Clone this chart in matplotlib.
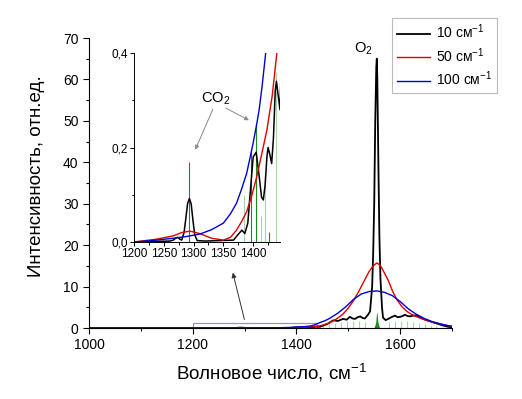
import matplotlib
matplotlib.use("Agg")
import matplotlib.pyplot as plt
from matplotlib.ticker import MultipleLocator, FuncFormatter
from matplotlib.patches import Rectangle

plt.rcParams['font.family'] = ['Liberation Sans', 'DejaVu Sans']
plt.rcParams['mathtext.fontset'] = 'custom'
plt.rcParams['mathtext.rm'] = 'Liberation Sans'
plt.rcParams['mathtext.it'] = 'Liberation Sans:italic'
plt.rcParams['mathtext.default'] = 'regular'

# ---------------- data ----------------
legend_labels = ["10 см$^{-1}$", "50 см$^{-1}$", "100 см$^{-1}$"]

x_10 = [1000, 1100, 1200, 1260, 1266, 1270, 1273, 1277, 1280, 1284, 1287, 1290, 1293, 1296,
        1299, 1302, 1306, 1320, 1367, 1374, 1381, 1386, 1391, 1396, 1400, 1405, 1410, 1414,
        1417, 1420, 1423, 1425, 1428, 1431, 1434, 1437, 1439, 1442, 1445, 1452, 1460, 1465,
        1471, 1480, 1490, 1497, 1503, 1508, 1513, 1518, 1523, 1528, 1532, 1538, 1542, 1546,
        1548, 1550, 1552, 1554, 1555, 1556, 1558, 1560, 1562, 1565, 1567, 1572, 1577, 1583,
        1590, 1595, 1600, 1605, 1609, 1614, 1619, 1625, 1632, 1638, 1644, 1653, 1663, 1673,
        1683, 1692, 1700]
y_10 = [0.0, 0.0, 0.0, 0.002, 0.004, 0.008, 0.010, 0.006, 0.004, 0.020, 0.050, 0.082, 0.092, 0.080,
        0.045, 0.015, 0.003, 0.002, 0.004, 0.015, 0.025, 0.018, 0.040, 0.120, 0.180, 0.190, 0.140, 0.095,
        0.089, 0.120, 0.180, 0.200, 0.185, 0.166, 0.220, 0.320, 0.340, 0.310, 0.28, 0.6, 1.0, 1.4,
        1.85, 1.7, 2.2, 2.0, 2.7, 2.3, 2.2, 2.6, 2.8, 2.4, 2.3, 3.2, 4.0, 10.0,
        18.0, 30.0, 50.0, 63.0, 65.0, 60.0, 40.0, 22.0, 12.0, 5.0, 2.5, 1.9, 2.2, 2.6,
        3.0, 2.6, 2.7, 2.9, 3.2, 2.9, 2.8, 3.0, 3.0, 2.6, 2.2, 1.8, 1.4, 1.0,
        0.6, 0.3, 0.15]

x_50 = [1000, 1100, 1200, 1238, 1266, 1280, 1294, 1310, 1330, 1350, 1362, 1372, 1380, 1389,
        1398, 1406, 1415, 1423, 1432, 1440, 1448, 1455, 1465, 1475, 1483, 1490, 1500, 1510,
        1520, 1530, 1540, 1548, 1555, 1562, 1570, 1577, 1585, 1593, 1603, 1613, 1622, 1632,
        1645, 1660, 1677, 1690, 1700]
y_50 = [0.0, 0.0, 0.0, 0.006, 0.013, 0.020, 0.023, 0.018, 0.008, 0.004, 0.010, 0.025, 0.042, 0.064,
        0.100, 0.138, 0.190, 0.237, 0.310, 0.403, 0.6, 0.85, 1.3, 2.0, 2.7, 3.4, 4.8, 6.6,
        8.8, 11.2, 13.6, 15.0, 15.7, 15.1, 13.2, 11.5, 9.0, 7.0, 5.2, 4.0, 3.3, 2.7,
        2.1, 1.5, 1.0, 0.6, 0.4]

x_100 = [1000, 1100, 1200, 1238, 1266, 1290, 1311, 1330, 1350, 1362, 1372, 1380, 1389, 1395,
         1400, 1406, 1410, 1415, 1421, 1428, 1435, 1445, 1455, 1465, 1480, 1495, 1510, 1525,
         1540, 1555, 1570, 1585, 1600, 1615, 1630, 1645, 1660, 1680, 1700]
y_100 = [0.0, 0.0, 0.0, 0.004, 0.008, 0.012, 0.017, 0.026, 0.040, 0.060, 0.082, 0.110, 0.145, 0.180,
         0.210, 0.250, 0.280, 0.330, 0.400, 0.50, 0.75, 1.3, 1.75, 2.4, 3.6, 5.1, 6.9, 8.2,
         8.8, 8.95, 8.6, 7.8, 6.4, 4.7, 3.4, 2.4, 1.6, 0.9, 0.4]

# CO2 stick lines (dark green)
co2_pos = [1293, 1397, 1405, 1427]
co2_int = [0.17, 0.195, 0.25, 0.022]

# O2 rotational stick lines (light green)
o2_pos = [1385, 1413, 1420, 1438, 1451, 1463, 1474, 1486, 1497, 1509, 1520, 1532,
          1578, 1590, 1601, 1613, 1624, 1636, 1647, 1659, 1670, 1682]
o2_int = [0.10, 0.055, 0.15, 0.36, 0.6, 0.9, 1.2, 1.4, 1.6, 1.7, 1.6, 1.4,
          1.4, 1.6, 1.7, 1.6, 1.4, 1.2, 0.9, 0.7, 0.5, 0.3]

# O2 Q-branch (filled green)
q_x = [1549, 1551, 1553, 1554, 1555, 1556, 1557, 1559, 1561]
q_y = [0.0, 0.5, 1.5, 3.0, 4.0, 3.0, 1.5, 0.5, 0.0]

# ---------------- figure ----------------
fig = plt.figure(figsize=(5.22, 3.99), dpi=100)
ax = fig.add_axes([89/522, 1-328/399, 363/522, 290/399])

col_k, col_r, col_b = 'black', '#e00000', '#0000d8'
dark_g, light_g = '#1a8a1a', '#a8d4a8'

ax.vlines(o2_pos, 0, o2_int, color=light_g, lw=0.8)
ax.vlines(co2_pos, 0, co2_int, color=dark_g, lw=0.8)
ax.fill_between(q_x, 0, q_y, color=dark_g, lw=0)
l1, = ax.plot(x_10, y_10, color=col_k, lw=1.3)
l2, = ax.plot(x_50, y_50, color=col_r, lw=1.0)
l3, = ax.plot(x_100, y_100, color=col_b, lw=1.0)

ax.set_xlim(1000, 1700)
ax.set_ylim(0, 70)
ax.spines['top'].set_visible(False)
ax.spines['right'].set_visible(False)
ax.xaxis.set_major_locator(MultipleLocator(200))
ax.xaxis.set_minor_locator(MultipleLocator(100))
ax.yaxis.set_major_locator(MultipleLocator(10))
ax.yaxis.set_minor_locator(MultipleLocator(5))
ax.tick_params(which='major', direction='out', length=4, width=0.8, labelsize=10)
ax.tick_params(which='minor', direction='out', length=2.5, width=0.8)

ax.set_xlabel("Волновое число, см$^{-1}$", fontsize=13.5)
ax.xaxis.set_label_coords(0.504, -0.118)
ax.set_ylabel("Интенсивность, отн.ед.", fontsize=13.5)
ax.yaxis.set_label_coords(-0.121, 0.525)

ax.text(1547, 65.3, "O$_2$", ha='right', va='bottom', fontsize=10.5)

# zoom rectangle and arrow
ax.add_patch(Rectangle((1200, 0), 240, 1.3, fill=False, edgecolor='#999999', lw=0.9))
ax.annotate("", xy=(1276, 14), xytext=(1301, 1.4),
            arrowprops=dict(arrowstyle='-|>', color='#333333', lw=0.7, mutation_scale=7))

leg = fig.legend([l1, l2, l3], legend_labels, loc='upper right',
                 bbox_to_anchor=(497/522, 1-18/399), fontsize=10, frameon=True,
                 fancybox=False, edgecolor='#aaaaaa', borderaxespad=0,
                 handlelength=2.4, handletextpad=0.4, labelspacing=0.35,
                 borderpad=0.35)
leg.get_frame().set_linewidth(0.8)

# ---------------- inset ----------------
ax2 = fig.add_axes([134/522, 1-242/399, 146/522, 189/399])
ax2.vlines(o2_pos, 0, o2_int, color=light_g, lw=0.8)
ax2.vlines(co2_pos, 0, co2_int, color=dark_g, lw=0.8)
ax2.plot(x_10, y_10, color=col_k, lw=1.1)
ax2.plot(x_50, y_50, color=col_r, lw=1.0)
ax2.plot(x_100, y_100, color=col_b, lw=1.0)
ax2.set_xlim(1200, 1445)
ax2.set_ylim(0, 0.4)
ax2.patch.set_alpha(0)
ax2.spines['top'].set_visible(False)
ax2.spines['right'].set_visible(False)
ax2.xaxis.set_major_locator(MultipleLocator(50))
ax2.xaxis.set_minor_locator(MultipleLocator(25))
ax2.yaxis.set_major_locator(MultipleLocator(0.2))
ax2.yaxis.set_minor_locator(MultipleLocator(0.1))
ax2.yaxis.set_major_formatter(FuncFormatter(lambda v, p: f"{v:.1f}".replace('.', ',')))
ax2.tick_params(which='major', direction='out', length=3, width=0.7, labelsize=8.5, pad=1.5)
ax2.tick_params(which='minor', direction='out', length=1.8, width=0.7)
for s in ('left', 'bottom'):
    ax2.spines[s].set_linewidth(0.7)

ax2.text(1337, 0.303, "CO$_2$", ha='center', va='center', fontsize=10.5)
ap = dict(arrowstyle='-|>', color='#888888', lw=0.7, mutation_scale=6)
ax2.annotate("", xy=(1301, 0.19), xytext=(1334, 0.286), arrowprops=ap)
ax2.annotate("", xy=(1397, 0.255), xytext=(1350, 0.286), arrowprops=ap)

fig.savefig("out.png", dpi=100)
